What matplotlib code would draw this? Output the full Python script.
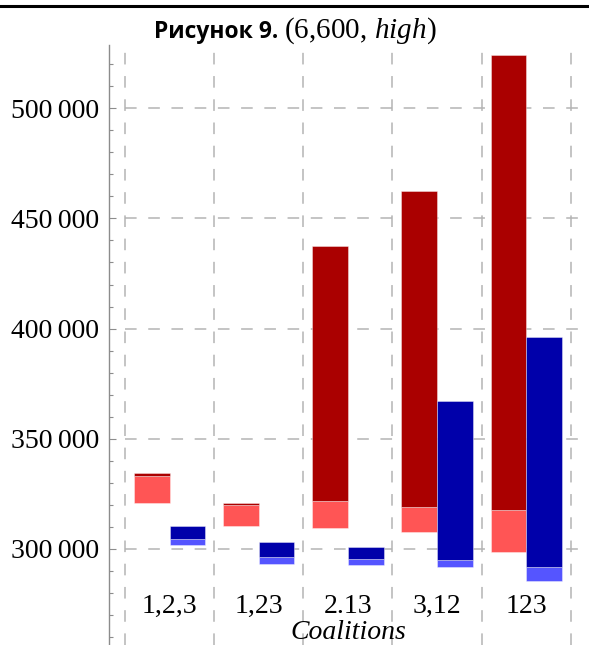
import matplotlib
matplotlib.use("Agg")
import matplotlib.pyplot as plt
from matplotlib.ticker import MultipleLocator, FuncFormatter
import numpy as np

# Coalition structures on the horizontal axis
coalitions = ["1,2,3", "1,23", "2.13", "3,12", "123"]

# Red series: lower bound, split point, upper bound
red_low = [321000, 310300, 309400, 307900, 298800]
red_mid = [333300, 320000, 321900, 319100, 317700]
red_high = [334600, 321000, 437500, 462600, 524000]

# Blue series: lower bound, split point, upper bound
blue_low = [301700, 293000, 292900, 291800, 285600]
blue_mid = [304500, 296200, 295500, 295100, 291800]
blue_high = [310400, 303200, 300800, 367200, 396200]

y_major = [300000, 350000, 400000, 450000, 500000]

DARK_RED = "#aa0000"
LIGHT_RED = "#ff5555"
DARK_BLUE = "#0000aa"
LIGHT_BLUE = "#5555ff"
GRID = "#b4b4b4"

plt.rcParams["mathtext.fontset"] = "custom"
plt.rcParams["mathtext.rm"] = "Liberation Serif"
plt.rcParams["mathtext.it"] = "Liberation Serif:italic"

W, H = 589, 645
fig = plt.figure(figsize=(W / 100, H / 100), dpi=100)

left_px, right_px, top_px, bottom_px = 109, 585, 45, 645
ax = fig.add_axes([left_px / W, 1 - bottom_px / H,
                   (right_px - left_px) / W, (bottom_px - top_px) / H])

x = np.arange(len(coalitions))
bw = 0.40
edge = dict(edgecolor=(1, 1, 1, 0.45), linewidth=0.6)

r_low, r_mid, r_high = map(np.array, (red_low, red_mid, red_high))
b_low, b_mid, b_high = map(np.array, (blue_low, blue_mid, blue_high))

ax.bar(x - bw / 2, r_mid - r_low, bottom=r_low, width=bw, color=LIGHT_RED, zorder=3, **edge)
ax.bar(x - bw / 2, r_high - r_mid, bottom=r_mid, width=bw, color=DARK_RED, zorder=3, **edge)
ax.bar(x + bw / 2, b_mid - b_low, bottom=b_low, width=bw, color=LIGHT_BLUE, zorder=3, **edge)
ax.bar(x + bw / 2, b_high - b_mid, bottom=b_mid, width=bw, color=DARK_BLUE, zorder=3, **edge)

xmin, xmax = -0.68, 4.66
ax.set_xlim(xmin, xmax)
ax.set_ylim(256400, 528700)

# dashed grid: category boundaries and major y values
dash = (0, (7.6, 7.6))
for b in np.arange(-0.5, len(coalitions), 1.0):
    ax.axvline(b, color=GRID, lw=1.1, linestyle=dash, zorder=1)
ax.hlines(y_major, -0.5, xmax, colors=GRID, lw=1.1, linestyles=[dash], zorder=1)

# axes styling
for s in ("top", "right", "bottom"):
    ax.spines[s].set_visible(False)
ax.spines["left"].set_color("#8c8c8c")
ax.spines["left"].set_linewidth(1.0)

ax.yaxis.set_major_locator(MultipleLocator(50000))
ax.yaxis.set_minor_locator(MultipleLocator(10000))
ax.yaxis.set_major_formatter(FuncFormatter(lambda v, p: f"{int(v):,}".replace(",", "\u2009")))
ax.tick_params(axis="y", which="major", direction="in", length=5, width=0.8,
               color="#8c8c8c", pad=7, labelsize=20)
ax.tick_params(axis="y", which="minor", direction="in", length=3, width=0.8, color="#8c8c8c")
for t in ax.get_yticklabels():
    t.set_fontfamily(["Liberation Serif", "DejaVu Serif"])

ax.set_xticks(x, coalitions)
ax.tick_params(axis="x", length=0, pad=-37, labelsize=20)
for t in ax.get_xticklabels():
    t.set_fontfamily("Liberation Serif")

ax.text(2.0, 0.021, "Coalitions", transform=ax.get_xaxis_transform(),
        ha="center", va="center", fontsize=20, fontstyle="italic",
        fontfamily="Liberation Serif")

# title and rule above the chart
fig.add_artist(plt.Line2D([0, 587 / W], [1 - 6 / H] * 2, color="black", lw=2.2))
fig.text(278 / W, 1 - 38 / H, "Рисунок 9.", ha="right", va="baseline",
         fontsize=16.5, fontweight="bold", fontfamily=["Open Sans", "DejaVu Sans"])
fig.text(284 / W, 1 - 38 / H, r"$(6{,}600,\!\ high)$", ha="left", va="baseline",
         fontsize=21)

fig.savefig("out.png", dpi=100)
